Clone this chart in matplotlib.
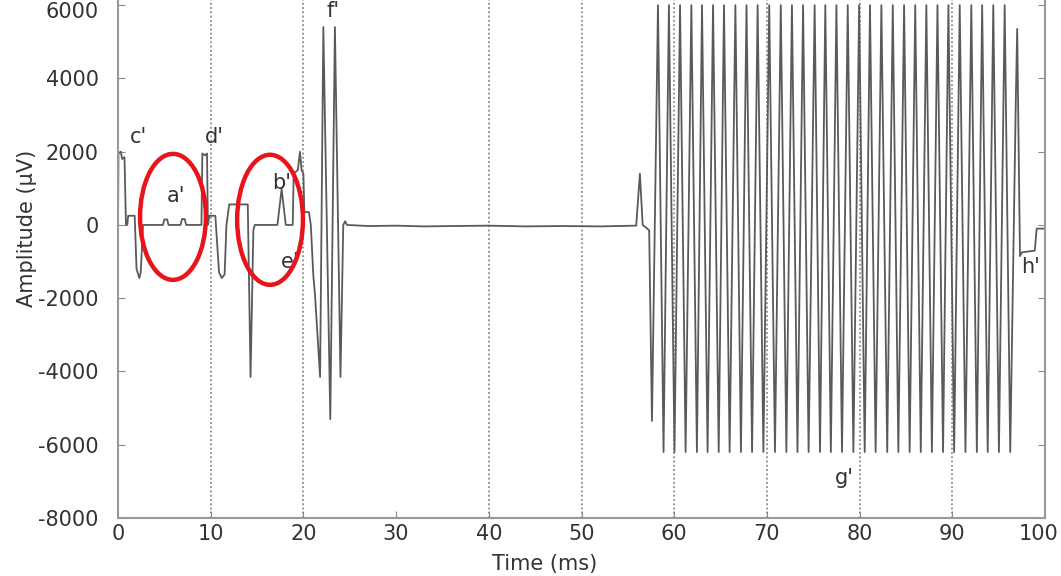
import numpy as np
import matplotlib
matplotlib.use("Agg")
import matplotlib.pyplot as plt
from matplotlib.patches import Ellipse
from matplotlib.transforms import ScaledTranslation

plt.rcParams["axes.unicode_minus"] = False

# stimulus part, 0 - 58 ms (time in ms, amplitude in uV)
t_start = [0.0, 0.05, 0.3, 0.45, 0.7, 0.86, 1.0, 1.1, 1.8, 2.0, 2.3, 2.45, 2.7,
           4.85, 5.0, 5.3, 5.45, 6.75, 6.9, 7.2, 7.35, 9.0, 9.1, 9.4, 9.6, 9.7,
           9.85, 10.5, 10.9, 11.2, 11.5, 11.7, 12.0, 14.0, 14.3, 14.6, 14.75,
           17.2, 17.65, 18.1, 18.85, 18.95, 19.4, 19.63, 19.8, 20.0, 20.1, 20.6,
           20.8, 21.07, 21.25, 21.8, 22.15, 22.9, 23.4, 24.0, 24.3, 24.5, 24.7,
           27, 30, 33, 36, 40, 44, 48, 52, 55.9, 56.3, 56.6, 57.0, 57.3, 57.6]
v_start = [0, 1950, 2000, 1800, 1850, 0, 0, 250, 250, -1200, -1450, -1300, 0,
           0, 150, 150, 0, 0, 160, 160, 0, 0, 1950, 1900, 1950, 0,
           250, 250, -1300, -1450, -1350, 0, 560, 560, -4150, -150, 0,
           0, 980, 0, 0, 1400, 1500, 2000, 1500, 1400, 350, 350,
           0, -1380, -1900, -4150, 5400, -5300, 5400, -4150, 0, 100, 0,
           -30, -20, -40, -30, -20, -40, -30, -40, -20, 1400, 0, -80, -150, -5350]

# tetanic oscillation, 58 - 97 ms
peak_t = [58.25, 59.43, 60.63, 61.85, 63.0, 64.19, 65.37, 66.6, 67.8, 69.0,
          70.25, 71.5, 72.7, 73.9, 75.15, 76.3, 77.5, 78.72, 79.95, 81.12,
          82.35, 83.58, 84.8, 86.0, 87.2, 88.4, 89.58, 90.8, 92.05, 93.22,
          94.42, 95.65]
trough_t = [58.85, 60.03, 61.23, 62.45, 63.6, 64.8, 65.98, 67.2, 68.4, 69.62,
            70.87, 72.1, 73.3, 74.5, 75.73, 76.9, 78.1, 79.33, 80.55, 81.73,
            82.98, 84.18, 85.4, 86.6, 87.8, 89.0, 90.2, 91.42, 92.65, 93.82,
            95.03, 96.25]
peak_v = 6000
trough_v = -6200

# end of the record, 97 - 100 ms
t_end = [96.85, 97.0, 97.3, 97.5, 98.9, 99.1, 100.0]
v_end = [3400, 5350, -850, -750, -700, -100, -100]

grid_x = [10, 20, 40, 50, 60, 70, 80, 90]

labels = ["c'", "d'", "a'", "b'", "e'", "f'", "g'", "h'"]
label_t = [2.2, 10.4, 6.3, 17.6, 18.6, 23.2, 78.4, 98.4]
label_v = [2400, 2400, 800, 1150, -1000, 5850, -6900, -1150]

t_osc = []
v_osc = []
for tp, tt in zip(peak_t, trough_t):
    t_osc += [tp, tt]
    v_osc += [peak_v, trough_v]

t = np.array(t_start + t_osc + t_end)
v = np.array(v_start + v_osc + v_end)

fig = plt.figure(figsize=(10.61, 5.76), dpi=100)
ax = fig.add_axes([118 / 1061, 58 / 576, 927 / 1061, 518 / 576])

for x in grid_x:
    ax.axvline(x, color="#777777", lw=1.1, ls=(0, (1.2, 1.6)), zorder=1)

ax.plot(t, v, color="#5a5a5a", lw=1.3, zorder=2)

for s, x, y in zip(labels, label_t, label_v):
    ax.text(x, y, s, fontsize=15, color="#333333", ha="center", va="center")

ax.add_patch(Ellipse((5.93, 220), 7.1, 3440, fill=False, ec="#e8141b", lw=3.2, zorder=3))
ax.add_patch(Ellipse((16.4, 140), 7.1, 3550, fill=False, ec="#e8141b", lw=3.2, zorder=3))

ax.set_xlim(0, 100)
ax.set_ylim(-8000, 6140)
ax.set_xticks(np.arange(0, 101, 10))
ax.set_yticks(np.arange(-8000, 6001, 2000))
ax.tick_params(direction="in", length=5, color="#888888", labelsize=15,
               labelcolor="#333333", right=True)
ax.tick_params(axis="y", pad=14)
ax.tick_params(axis="x", pad=4)
ax.spines["top"].set_visible(False)
for side in ["left", "right", "bottom"]:
    ax.spines[side].set_color("#999999")
    ax.spines[side].set_linewidth(1.5)

# keep the edge labels inside the picture
last = ax.get_xticklabels()[-1]
last.set_transform(last.get_transform() + ScaledTranslation(-0.06, 0, fig.dpi_scale_trans))
top = ax.get_yticklabels()[-1]
top.set_transform(top.get_transform() + ScaledTranslation(0, -0.05, fig.dpi_scale_trans))

ax.set_xlabel("Time (ms)", fontsize=15, color="#333333")
ax.xaxis.set_label_coords(0.46, -0.07)
ax.set_ylabel("Amplitude (μV)", fontsize=15, color="#333333")
ax.yaxis.set_label_coords(-0.087, 0.56)

fig.savefig("out.png", dpi=100)
